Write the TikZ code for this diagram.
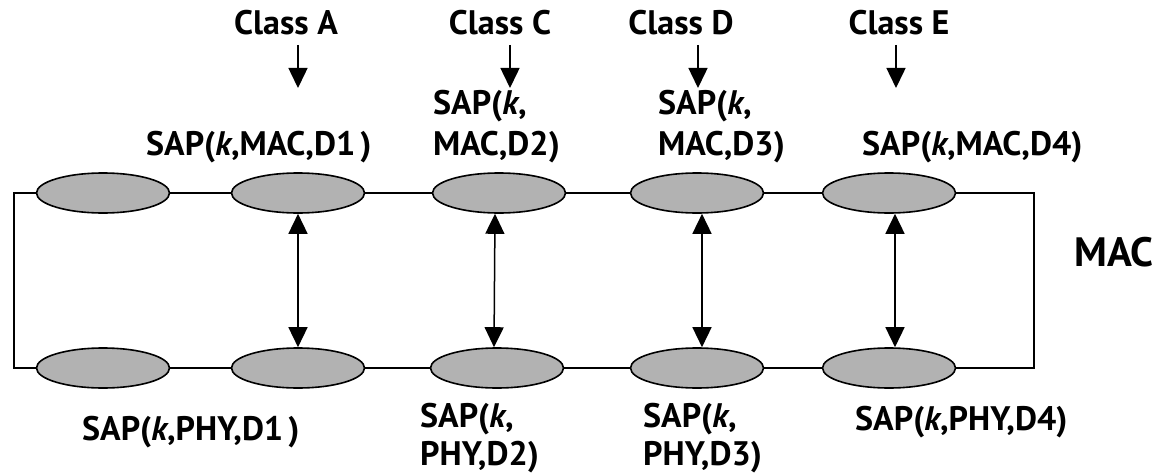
\documentclass[tikz,border=0pt]{standalone}
\usepackage{fontspec}
\setmainfont{PT Sans}
\usetikzlibrary{arrows.meta,shapes.geometric}
\definecolor{sapfill}{RGB}{178,178,178}
\begin{document}
\begin{tikzpicture}[x=1pt,y=-1pt,
  sap/.style={ellipse,draw=black,line width=1.6pt,fill=sapfill,
    minimum width=133pt,minimum height=40pt,inner sep=0pt},
  lbl/.style={font=\fontsize{34}{41}\selectfont\bfseries,inner sep=0pt,
    align=left,anchor=base west},
  lowlbl/.style={lbl,font=\fontsize{34}{38}\selectfont\bfseries},
  wire/.style={line width=1.5pt},
  tip/.style={line width=1.5pt,-{Triangle[length=20pt,width=19pt]}},
  dtip/.style={line width=1.5pt,{Triangle[length=20pt,width=19pt]}-{Triangle[length=20pt,width=19pt]}}]
\useasboundingbox (0,0) rectangle (1156,476);

% service access points, MAC row and PHY row
\foreach \i/\x in {1/103,2/298,3/499,4/697,5/889}
  \node[sap] (t\i) at (\x,193) {};
\foreach \i/\x in {1/103,2/298,3/497,4/697,5/889}
  \node[sap] (b\i) at (\x,368) {};

% ring through both rows
\coordinate (lt) at (14,193);
\coordinate (lb) at (14,368);
\coordinate (rt) at (1034,193);
\coordinate (rb) at (1034,368);
\draw[wire] (t1.west) -- (lt) -- (lb) -- (b1.west);
\draw[wire] (t5.east) -- (rt) -- (rb) -- (b5.east);
\foreach \a/\b in {1/2,2/3,3/4,4/5} {
  \draw[wire] (t\a.east) -- (t\b.west);
  \draw[wire] (b\a.east) -- (b\b.west);
}

% MAC <-> PHY mappings
\draw[dtip] (t2.south) -- (b2.north);
\draw[dtip] ([xshift=-4pt]t3.south) -- ([xshift=-3pt]b3.north);
\draw[dtip] ([xshift=5pt]t4.south) -- ([xshift=5pt]b4.north);
\draw[dtip] ([xshift=6pt]t5.south) -- ([xshift=6pt]b5.north);

% traffic classes
\node[lbl,anchor=base] (ca) at (286,35) {Class A};
\node[lbl,anchor=base] (cc) at (500,35) {Class C};
\node[lbl,anchor=base] (cd) at (681,35) {Class D};
\node[lbl,anchor=base] (ce) at (899,35) {Class E};
\coordinate (pa) at (298,88);
\coordinate (pc) at (510,88);
\coordinate (pd) at (698,88);
\coordinate (pe) at (896,88);
\draw[tip] (pa |- 0,45) -- (pa);
\draw[tip] (pc |- 0,45) -- (pc);
\draw[tip] (pd |- 0,45) -- (pd);
\draw[tip] (pe |- 0,45) -- (pe);

% SAP labels (two-line labels are placed by their last baseline)
\node[lbl] (m1) at (146,155) {SAP(\textit{k},MAC,D1\hspace{0.15em})};
\node[lbl] (m2) at (433,155) {SAP(\textit{k},\\MAC,D2)};
\node[lbl] (m3) at (658,155) {SAP(\textit{k},\\MAC,D3)};
\node[lbl] (m4) at (862,155) {SAP(\textit{k},MAC,D4)};
\node[lbl] (p1) at (82,440) {SAP(\textit{k},PHY,D1\hspace{0.15em})};
\node[lowlbl] (p2) at (420,465) {SAP(\textit{k},\\PHY,D2)};
\node[lowlbl] (p3) at (643,465) {SAP(\textit{k},\\PHY,D3)};
\node[lbl] (p4) at (855,430) {SAP(\textit{k},PHY,D4)};

\node[lbl,font=\fontsize{41}{48}\selectfont\bfseries] (mac) at (1074,266) {MAC};
\end{tikzpicture}
\end{document}
